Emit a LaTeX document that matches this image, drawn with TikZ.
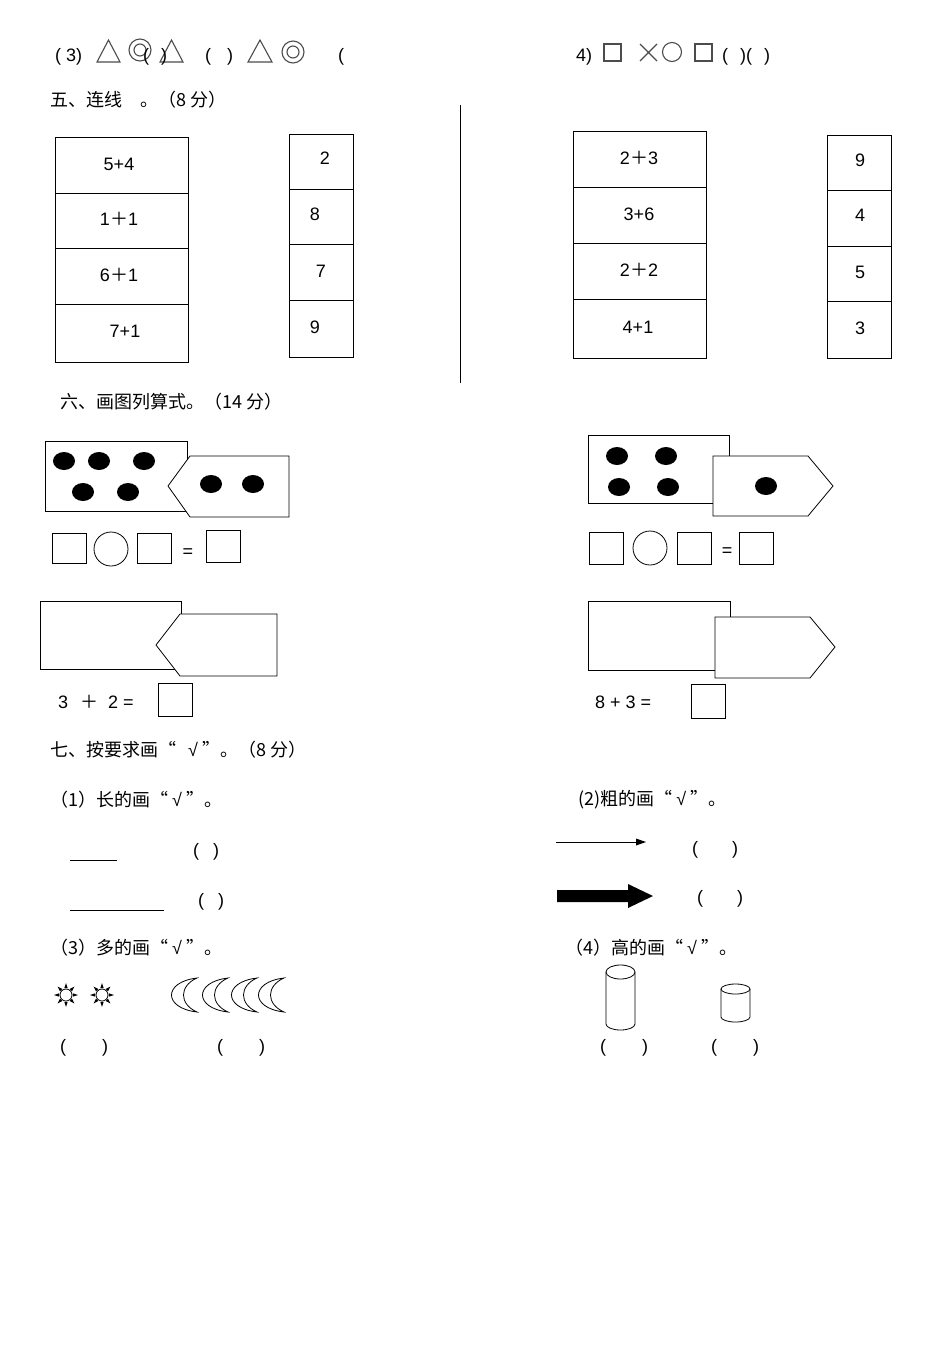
\documentclass[tikz,border=0pt]{standalone}
\usepackage{fontspec}
\usetikzlibrary{calc}
\setmainfont{Liberation Sans}
\newfontfamily\cjk{Noto Sans CJK SC}
\begin{document}
\begin{tikzpicture}[x=1pt,y=-1pt,
 t/.style={anchor=west,inner sep=0,font=\fontsize{18}{20}\selectfont\cjk},
 n/.style={inner sep=0,font=\fontsize{18}{20}\selectfont},
 cell/.style={draw,thick},
 sh/.style={draw=black!70,line width=1.1pt}]
\newcommand\pl{{\cjk ＋}}
\newcommand\rt{{\rmfamily √}}
\newcommand\gap[1]{\hspace*{#1pt}}
\useasboundingbox (0,0) rectangle (950,1345);
% top row
\node[n,anchor=west] (a1) at (55,57) {( 3)};
\draw[sh] (97,62)--(108.5,40)--(120,62)--cycle;
\draw[sh] (140,50) circle (11) (140,50) circle (6);
\draw[sh] (160,62)--(171.5,40)--(183,62)--cycle;
\node[n,anchor=west] (a2) at (143,57) {(\gap{12})};
\node[n,anchor=west] (a3) at (205,57) {(\gap{16})};
\draw[sh] (248,62)--(260,40)--(272,62)--cycle;
\draw[sh] (293,52) circle (11) (293,52) circle (6);
\node[n,anchor=west] (a4) at (338,57) {(};
\node[n,anchor=west] (a5) at (576,57) {4)};
\draw[sh] (604,44) rectangle (621,61);
\draw[sh] (640,44)--(657,61) (657,44)--(640,61);
\draw[sh] (672,52) circle (9.5);
\draw[sh] (695,44) rectangle (712,61);
\node[n,anchor=west] (a6) at (722,57) {(\gap{12})(\gap{12})};
\node[t] (h5) at (50,100) {五、连线\gap{18}。（8 分）};
% boxes
\draw[cell] (55,137) rectangle (188,362);
\foreach \y in {193,248,304}{\draw[thick] (55,\y)--(188,\y);}
\node[n] (l1) at (119,164) {5+4};
\node[n] (l2) at (119,219) {1\pl1};
\node[n] (l3) at (119,275) {6\pl1};
\node[n] (l4) at (125,331) {7+1};
\draw[cell] (289,134) rectangle (353,357);
\foreach \y in {189,244,300}{\draw[thick] (289,\y)--(353,\y);}
\node[n] (m1) at (325,158) {2};
\node[n] (m2) at (315,214) {8};
\node[n] (m3) at (321,271) {7};
\node[n] (m4) at (315,327) {9};
\draw[thick] (460,105)--(460,383);
\draw[cell] (573,131) rectangle (706,358);
\foreach \y in {187,243,299}{\draw[thick] (573,\y)--(706,\y);}
\node[n] (r1) at (639,158) {2\pl3};
\node[n] (r2) at (639,214) {3+6};
\node[n] (r3) at (639,270) {2\pl2};
\node[n] (r4) at (638,327) {4+1};
\draw[cell] (827,135) rectangle (891,358);
\foreach \y in {190,246,301}{\draw[thick] (827,\y)--(891,\y);}
\node[n] (s1) at (860,160) {9};
\node[n] (s2) at (860,215) {4};
\node[n] (s3) at (860,272) {5};
\node[n] (s4) at (860,328) {3};
\node[t] (h6) at (60,402) {六、画图列算式。（14 分）};
% picture 1
\draw[thick] (45,441) rectangle (187,511);
\draw[thick,fill=white] (168,486)--(190,456)--(289,456)--(289,517)--(190,517)--cycle;
\foreach \p in {(64,461),(99,461),(144,461),(83,492),(128,492),(211,484),(253,484)}{\fill \p ellipse (11 and 9);}
\draw[thick] (52,533) rectangle (86,563) (137,533) rectangle (171,563) (206,530) rectangle (240,562);
\draw[thick] (111,549) circle (17);
\node[n] (e1) at (188,553) {=};
% picture 2
\draw[thick] (588,435) rectangle (729,503);
\draw[thick,fill=white] (713,456)--(808,456)--(833,486)--(808,516)--(713,516)--cycle;
\foreach \p in {(617,456),(666,456),(619,487),(668,487),(766,486)}{\fill \p ellipse (11 and 9);}
\draw[thick] (589,532) rectangle (623,564) (677,532) rectangle (711,564) (739,532) rectangle (773,564);
\draw[thick] (650,548) circle (17);
\node[n] (e2) at (727,552) {=};
% picture 3
\draw[thick] (40,601) rectangle (181,669);
\draw[thick,fill=white] (156,645)--(180,614)--(277,614)--(277,676)--(180,676)--cycle;
\node[n,anchor=west] (q1) at (58,702) {3\gap{12}\pl\gap{10}2 =};
\draw[thick] (158,683) rectangle (192,716);
\draw[thick] (588,601) rectangle (730,670);
\draw[thick,fill=white] (715,617)--(810,617)--(835,647)--(810,678)--(715,678)--cycle;
\node[n,anchor=west] (q2) at (595,702) {8 + 3 =};
\draw[thick] (691,684) rectangle (725,718);
% section 7
\node[t] (h7) at (50,750) {七、按要求画“\gap{12}\rt\ ”。（8 分）};
\node[t] (p1) at (50,800) {（1）长的画“ \rt\ ”。};
\node[t] (p2) at (578,800) {(2)粗的画“ \rt\ ”。};
\draw[thick] (70,860)--(117,860);
\node[n,anchor=west] (b1) at (193,852) {(\gap{14})};
\draw[thick] (70,910)--(164,910);
\node[n,anchor=west] (b2) at (198,902) {(\gap{14})};
\draw[thick] (556,842)--(640,842);
\fill (646,842)--(636,838.5)--(636,845.5)--cycle;
\node[n,anchor=west] (b3) at (692,850) {(\gap{34})};
\fill (557,890)--(628,890)--(628,884)--(653,896)--(628,908)--(628,902)--(557,902)--cycle;
\node[n,anchor=west] (b4) at (697,899) {(\gap{34})};
\node[t] (p3) at (50,948) {（3）多的画“ \rt\ ”。};
\node[t] (p4) at (565,948) {（4）高的画“ \rt\ ”。};
% suns
\foreach \cx in {66,102}{
 \draw[thick] (\cx,995) circle (6);
 \foreach \a in {0,45,...,315}{\fill ($(\cx,995)+(\a:12)$) -- ($(\cx,995)+(\a+14:7)$) -- ($(\cx,995)+(\a-14:7)$) -- cycle;}}
% moons
\foreach \mx in {170,201,230,257}{
 \draw[thick,fill=white] (\mx+27,978) .. controls (\mx-7,982) and (\mx-7,1008) .. (\mx+27,1012)
  .. controls (\mx+9,1004) and (\mx+9,986) .. cycle;}
% cylinders
\draw[thick] (606,972)--(606,1024) arc[start angle=180,end angle=0,x radius=14.5,y radius=6] -- (635,972);
\draw[thick] (620.5,972) ellipse (14.5 and 7);
\draw[thick] (721,989)--(721,1017) arc[start angle=180,end angle=0,x radius=14.5,y radius=5] -- (750,989);
\draw[thick] (735.5,989) ellipse (14.5 and 5);
\node[n,anchor=west] (c1) at (60,1048) {(\gap{36})};
\node[n,anchor=west] (c2) at (217,1048) {(\gap{36})};
\node[n,anchor=west] (c3) at (600,1048) {(\gap{36})};
\node[n,anchor=west] (c4) at (711,1048) {(\gap{36})};
\end{tikzpicture}
\end{document}
